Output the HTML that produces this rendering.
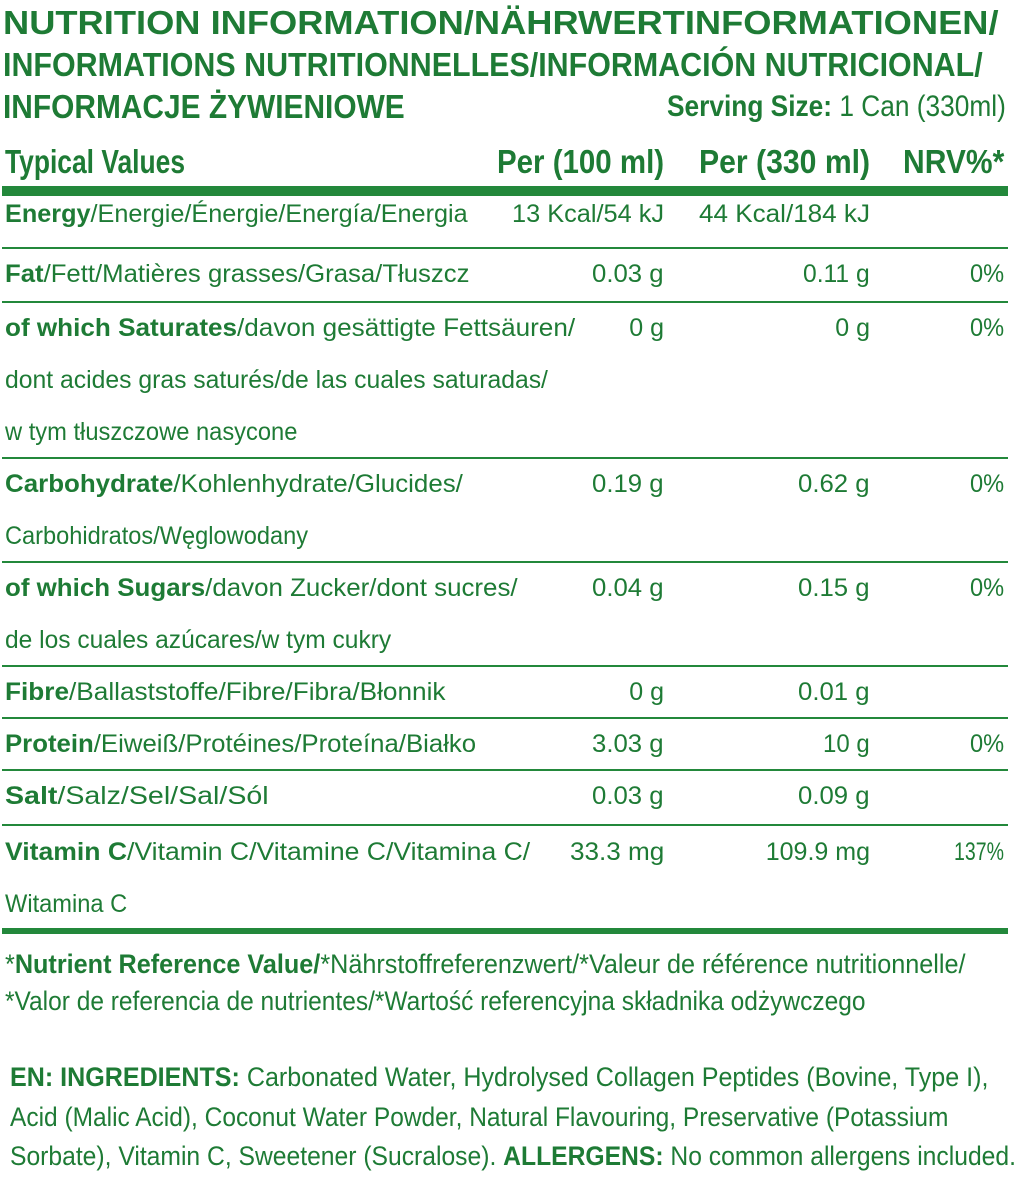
<!DOCTYPE html>
<html><head><meta charset="utf-8">
<style>
html,body{margin:0;padding:0;background:#fff;}
body{width:1024px;height:1182px;position:relative;overflow:hidden;font-family:"Liberation Sans",sans-serif;color:#1e7b35;}
.t{position:absolute;white-space:nowrap;line-height:1;transform-origin:left top;}
.r{transform-origin:right top;}
.rw{font-size:25px;}
.b{font-weight:bold;}
.h{font-size:33px;font-weight:bold;}
.ln{position:absolute;left:2px;width:1006px;background:#23883b;}
</style></head><body>
<div class="t h" style="left:3px;top:6px" data-w="996">NUTRITION INFORMATION/NÄHRWERTINFORMATIONEN/</div>
<div class="t h" style="left:3px;top:48px" data-w="980">INFORMATIONS NUTRITIONNELLES/INFORMACIÓN NUTRICIONAL/</div>
<div class="t h" style="left:3px;top:90px" data-w="402">INFORMACJE ŻYWIENIOWE</div>
<div class="t r" style="right:18px;top:92px;font-size:30px" data-w="339"><span class="b">Serving Size:</span> 1 Can (330ml)</div>

<div class="t h r" style="left:5px;top:145px;transform-origin:left top" data-w="180">Typical Values</div>
<div class="t h r" style="right:360px;top:145px" data-w="167">Per (100 ml)</div>
<div class="t h r" style="right:154px;top:145px" data-w="171">Per (330 ml)</div>
<div class="t h r" style="right:20px;top:145px" data-w="101">NRV%*</div>

<div class="ln" style="top:186px;height:10px"></div>
<div class="ln" style="top:247px;height:2px"></div>
<div class="ln" style="top:301px;height:2px"></div>
<div class="ln" style="top:457px;height:2px"></div>
<div class="ln" style="top:561px;height:2px"></div>
<div class="ln" style="top:665px;height:2px"></div>
<div class="ln" style="top:717px;height:2px"></div>
<div class="ln" style="top:769px;height:2px"></div>
<div class="ln" style="top:824px;height:2px"></div>
<div class="ln" style="top:928px;height:6px"></div>

<div class="t rw" style="left:5px;top:202px" data-w="463"><b>Energy</b>/Energie/Énergie/Energía/Energia</div>
<div class="t rw r" style="right:360px;top:202px" data-w="152">13 Kcal/54 kJ</div>
<div class="t rw r" style="right:154px;top:202px" data-w="171">44 Kcal/184 kJ</div>

<div class="t rw" style="left:5px;top:262px" data-w="465"><b>Fat</b>/Fett/Matières grasses/Grasa/Tłuszcz</div>
<div class="t rw r" style="right:360px;top:262px" data-w="72">0.03 g</div>
<div class="t rw r" style="right:154px;top:262px" data-w="67">0.11 g</div>
<div class="t rw r" style="right:20px;top:262px" data-w="34">0%</div>

<div class="t rw" style="left:5px;top:316px" data-w="570"><b>of which Saturates</b>/davon gesättigte Fettsäuren/</div>
<div class="t rw" style="left:5px;top:368px" data-w="543">dont acides gras saturés/de las cuales saturadas/</div>
<div class="t rw" style="left:5px;top:420px" data-w="292">w tym tłuszczowe nasycone</div>
<div class="t rw r" style="right:360px;top:316px" data-w="35">0 g</div>
<div class="t rw r" style="right:154px;top:316px" data-w="35">0 g</div>
<div class="t rw r" style="right:20px;top:316px" data-w="34">0%</div>

<div class="t rw" style="left:5px;top:472px" data-w="458"><b>Carbohydrate</b>/Kohlenhydrate/Glucides/</div>
<div class="t rw" style="left:5px;top:524px" data-w="303">Carbohidratos/Węglowodany</div>
<div class="t rw r" style="right:360px;top:472px" data-w="72">0.19 g</div>
<div class="t rw r" style="right:154px;top:472px" data-w="72">0.62 g</div>
<div class="t rw r" style="right:20px;top:472px" data-w="34">0%</div>

<div class="t rw" style="left:5px;top:576px" data-w="513"><b>of which Sugars</b>/davon Zucker/dont sucres/</div>
<div class="t rw" style="left:5px;top:628px" data-w="386">de los cuales azúcares/w tym cukry</div>
<div class="t rw r" style="right:360px;top:576px" data-w="72">0.04 g</div>
<div class="t rw r" style="right:154px;top:576px" data-w="72">0.15 g</div>
<div class="t rw r" style="right:20px;top:576px" data-w="34">0%</div>

<div class="t rw" style="left:5px;top:680px" data-w="441"><b>Fibre</b>/Ballaststoffe/Fibre/Fibra/Błonnik</div>
<div class="t rw r" style="right:360px;top:680px" data-w="35">0 g</div>
<div class="t rw r" style="right:154px;top:680px" data-w="72">0.01 g</div>

<div class="t rw" style="left:5px;top:732px" data-w="471"><b>Protein</b>/Eiweiß/Protéines/Proteína/Białko</div>
<div class="t rw r" style="right:360px;top:732px" data-w="72">3.03 g</div>
<div class="t rw r" style="right:154px;top:732px" data-w="47">10 g</div>
<div class="t rw r" style="right:20px;top:732px" data-w="34">0%</div>

<div class="t rw" style="left:5px;top:784px" data-w="264"><b>Salt</b>/Salz/Sel/Sal/Sól</div>
<div class="t rw r" style="right:360px;top:784px" data-w="72">0.03 g</div>
<div class="t rw r" style="right:154px;top:784px" data-w="72">0.09 g</div>

<div class="t rw" style="left:5px;top:840px" data-w="525"><b>Vitamin C</b>/Vitamin C/Vitamine C/Vitamina C/</div>
<div class="t rw" style="left:5px;top:892px" data-w="122">Witamina C</div>
<div class="t rw r" style="right:360px;top:840px" data-w="94">33.3 mg</div>
<div class="t rw r" style="right:154px;top:840px" data-w="104">109.9 mg</div>
<div class="t rw r" style="right:20px;top:840px" data-w="50">137%</div>

<div class="t" style="left:5px;top:951px;font-size:27px" data-w="961">*<b>Nutrient Reference Value/</b>*Nährstoffreferenzwert/*Valeur de référence nutritionnelle/</div>
<div class="t" style="left:5px;top:988px;font-size:27px" data-w="860">*Valor de referencia de nutrientes/*Wartość referencyjna składnika odżywczego</div>

<div class="t" style="left:10px;top:1064px;font-size:27px" data-w="978"><b>EN: INGREDIENTS:</b> Carbonated Water, Hydrolysed Collagen Peptides (Bovine, Type I),</div>
<div class="t" style="left:10px;top:1104px;font-size:27px" data-w="938">Acid (Malic Acid), Coconut Water Powder, Natural Flavouring, Preservative (Potassium</div>
<div class="t" style="left:10px;top:1143px;font-size:27px" data-w="1006">Sorbate), Vitamin C, Sweetener (Sucralose). <b>ALLERGENS:</b> No common allergens included.</div>

<script>
document.querySelectorAll('[data-w]').forEach(function(e){
  var w=e.offsetWidth, t=parseFloat(e.getAttribute('data-w'));
  if(w>0) e.style.transform='scaleX('+(t/w)+')';
});
</script>
</body></html>
